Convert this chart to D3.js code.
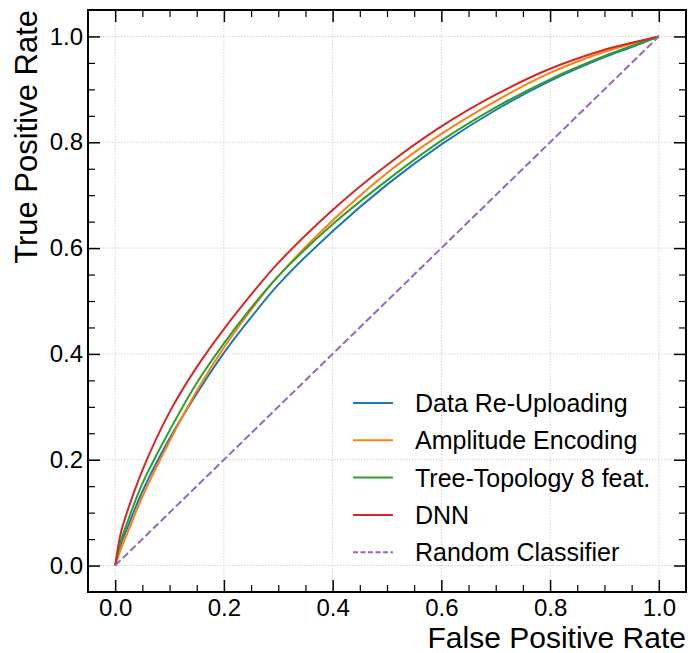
<!DOCTYPE html>
<html>
<head>
<meta charset="utf-8">
<script src="https://cdn.jsdelivr.net/npm/d3@7"></script>
<style>
    body { margin: 0; background: #fff; }
    svg text { font-family: "Liberation Sans", Arial, Helvetica, sans-serif; fill: #000; }
</style>
</head>
<body>
<svg id="chart" width="688" height="653"></svg>
<script>
// ROC curves
var fpr_grid = [0, 0.01, 0.02, 0.05, 0.1, 0.15, 0.2, 0.25, 0.3, 0.4, 0.5, 0.6, 0.7, 0.8, 0.9, 0.95, 1.0];
var tpr_reupload = [0, 0.040, 0.065, 0.140, 0.240, 0.325, 0.402, 0.469, 0.531, 0.632, 0.720, 0.796, 0.861, 0.916, 0.961, 0.980, 1.0];
var tpr_amplitude = [0, 0.030, 0.055, 0.130, 0.235, 0.330, 0.412, 0.483, 0.547, 0.652, 0.742, 0.816, 0.878, 0.931, 0.971, 0.986, 1.0];
var tpr_tree = [0, 0.045, 0.075, 0.155, 0.255, 0.345, 0.420, 0.487, 0.547, 0.645, 0.728, 0.803, 0.866, 0.919, 0.963, 0.982, 1.0];
var tpr_dnn = [0, 0.060, 0.095, 0.180, 0.290, 0.375, 0.447, 0.512, 0.572, 0.672, 0.757, 0.830, 0.890, 0.939, 0.975, 0.988, 1.0];
var random_fpr = [0, 1];
var random_tpr = [0, 1];

var series_names = ["Data Re-Uploading", "Amplitude Encoding", "Tree-Topology 8 feat.", "DNN", "Random Classifier"];
var series_colors = ["#1f77b4", "#ff7f0e", "#2ca02c", "#d62728", "#9467bd"];
var major_ticks = [0, 0.2, 0.4, 0.6, 0.8, 1.0];
var minor_ticks = [0.05, 0.1, 0.15, 0.25, 0.3, 0.35, 0.45, 0.5, 0.55, 0.65, 0.7, 0.75, 0.85, 0.9, 0.95];

(function() {
    var svg = d3.select("#chart");
    var left = 88, right = 686, top = 10, bottom = 592;

    var x = d3.scaleLinear().domain([-0.05, 1.05]).range([left, right]);
    var y = d3.scaleLinear().domain([-0.05, 1.05]).range([bottom, top]);
    var fmt = d3.format(".1f");

    //
    // grid: light dotted lines at the major ticks
    //
    var grid = svg.append("g");
    grid.selectAll("line.gx").data(major_ticks).enter().append("line")
        .attr("x1", function(d) { return x(d); })
        .attr("x2", function(d) { return x(d); })
        .attr("y1", top).attr("y2", bottom);
    grid.selectAll("line.gy").data(major_ticks).enter().append("line")
        .attr("y1", function(d) { return y(d); })
        .attr("y2", function(d) { return y(d); })
        .attr("x1", left).attr("x2", right);
    grid.selectAll("line")
        .attr("stroke", "#d2d2d2")
        .attr("stroke-width", 1)
        .attr("stroke-dasharray", "1.5,1.5");

    //
    // curves
    //
    var line = d3.line()
        .x(function(d) { return x(d[0]); })
        .y(function(d) { return y(d[1]); })
        .curve(d3.curveCatmullRom.alpha(0.5));
    var curves = [tpr_reupload, tpr_amplitude, tpr_tree, tpr_dnn];
    curves.forEach(function(tpr, i) {
        svg.append("path")
            .datum(d3.zip(fpr_grid, tpr))
            .attr("d", line)
            .attr("fill", "none")
            .attr("stroke", series_colors[i])
            .attr("stroke-width", 2);
    });
    svg.append("path")
        .datum(d3.zip(random_fpr, random_tpr))
        .attr("d", d3.line()
            .x(function(d) { return x(d[0]); })
            .y(function(d) { return y(d[1]); }))
        .attr("fill", "none")
        .attr("stroke", series_colors[4])
        .attr("stroke-width", 2)
        .attr("stroke-dasharray", "7.4,3.2");

    //
    // axes: inward ticks on all four sides, labels bottom and left
    //
    function style_axis(g, width) {
        g.select(".domain").remove();
        g.selectAll(".tick line").attr("stroke", "#000").attr("stroke-width", width);
        g.selectAll(".tick text").attr("font-size", "24px")
            .style("font-family", "'Liberation Sans', Arial, sans-serif");
    }
    var gb = svg.append("g").attr("transform", "translate(0," + bottom + ")")
        .call(d3.axisBottom(x).tickValues(major_ticks).tickFormat(fmt)
              .tickSize(-12).tickPadding(7));
    style_axis(gb, 1.5);
    var gl = svg.append("g").attr("transform", "translate(" + left + ",0)")
        .call(d3.axisLeft(y).tickValues(major_ticks).tickFormat(fmt)
              .tickSize(-12).tickPadding(5));
    style_axis(gl, 1.5);
    var gt = svg.append("g").attr("transform", "translate(0," + top + ")")
        .call(d3.axisTop(x).tickValues(major_ticks).tickFormat("").tickSize(-12));
    style_axis(gt, 1.5);
    var gr = svg.append("g").attr("transform", "translate(" + right + ",0)")
        .call(d3.axisRight(y).tickValues(major_ticks).tickFormat("").tickSize(-12));
    style_axis(gr, 1.5);

    // minor ticks
    [[d3.axisBottom(x), "translate(0," + bottom + ")"],
     [d3.axisTop(x), "translate(0," + top + ")"],
     [d3.axisLeft(y), "translate(" + left + ",0)"],
     [d3.axisRight(y), "translate(" + right + ",0)"]].forEach(function(a) {
        var g = svg.append("g").attr("transform", a[1])
            .call(a[0].tickValues(minor_ticks).tickFormat("").tickSize(-7));
        style_axis(g, 1.2);
    });

    // frame
    svg.append("rect")
        .attr("x", left).attr("y", top)
        .attr("width", right - left).attr("height", bottom - top)
        .attr("fill", "none").attr("stroke", "#000").attr("stroke-width", 2);

    // axis titles
    svg.append("text")
        .attr("x", right).attr("y", 648)
        .attr("text-anchor", "end")
        .attr("font-size", "30px")
        .text("False Positive Rate");
    svg.append("text")
        .attr("transform", "translate(37," + top + ") rotate(-90)")
        .attr("text-anchor", "end")
        .attr("font-size", "31px")
        .text("True Positive Rate");

    //
    // legend
    //
    var legend = svg.append("g");
    series_names.forEach(function(name, i) {
        var cy = 403 + i * 37.3;
        var h = legend.append("line")
            .attr("x1", 353).attr("x2", 393)
            .attr("y1", cy).attr("y2", cy)
            .attr("stroke", series_colors[i])
            .attr("stroke-width", 2);
        if (i == 4)
            h.attr("stroke-dasharray", "5,2.5");
        legend.append("text")
            .attr("x", 415).attr("y", cy)
            .attr("dy", "0.36em")
            .attr("font-size", "25px")
            .text(name);
    });
})();
</script>
</body>
</html>
